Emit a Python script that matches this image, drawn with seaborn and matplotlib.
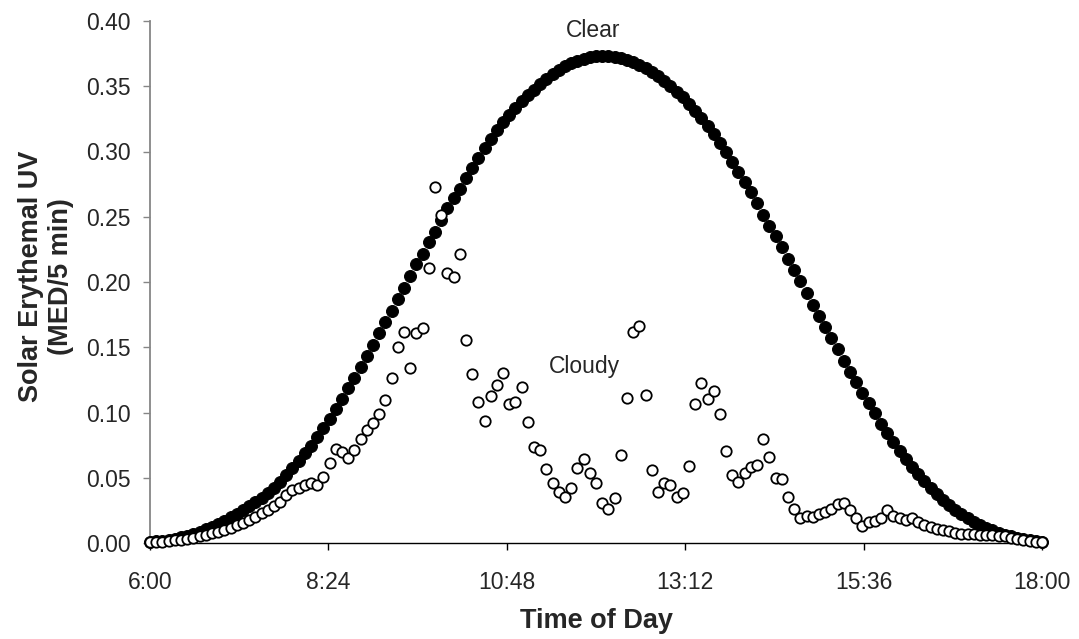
import numpy as np
import matplotlib
matplotlib.use("Agg")
import matplotlib.pyplot as plt
import seaborn as sns

# ---- data (5-minute readings from 6:00 to 18:00) ----
start_minute = 360
step_minutes = 5

clear = [
    0.0009, 0.0013, 0.0019, 0.0026, 0.0034, 0.0044, 0.0056, 0.0070, 0.0086, 0.0104,
    0.0124, 0.0147, 0.0172, 0.0199, 0.0225, 0.0255, 0.0285, 0.0315, 0.0345, 0.0380,
    0.0420, 0.0470, 0.0520, 0.0572, 0.0628, 0.0690, 0.0746, 0.0810, 0.0880, 0.0948,
    0.1025, 0.1100, 0.1185, 0.1267, 0.1346, 0.1433, 0.1517, 0.1607, 0.1696, 0.1780,
    0.1867, 0.1956, 0.2046, 0.2135, 0.2215, 0.2304, 0.2386, 0.2475, 0.2565, 0.2646,
    0.2713, 0.2800, 0.2876, 0.2952, 0.3026, 0.3096, 0.3162, 0.3224, 0.3282, 0.3336,
    0.3386, 0.3432, 0.3474, 0.3516, 0.3556, 0.3592, 0.3624, 0.3652, 0.3676, 0.3695,
    0.3710, 0.3721, 0.3728, 0.3730,
    0.3729, 0.3725, 0.3716, 0.3704, 0.3687, 0.3666, 0.3641, 0.3611, 0.3577, 0.3540,
    0.3499, 0.3457, 0.3414, 0.3366, 0.3314, 0.3257, 0.3199, 0.3136, 0.3068, 0.2997,
    0.2922, 0.2846, 0.2765, 0.2686, 0.2605, 0.2515,
    0.2430, 0.2352, 0.2266, 0.2176, 0.2092, 0.2008, 0.1918, 0.1824, 0.1742, 0.1653,
    0.1569, 0.1484, 0.1395, 0.1313, 0.1231, 0.1147, 0.1070, 0.0995,
    0.0915, 0.0843, 0.0772, 0.0705, 0.0640, 0.0580, 0.0525, 0.0472, 0.0420, 0.0372,
    0.0328, 0.0288, 0.0252, 0.0219, 0.0189, 0.0162, 0.0138, 0.0116, 0.0097, 0.0080,
    0.0065, 0.0052, 0.0040, 0.0030, 0.0021, 0.0013, 0.0006,
]

cloudy = [
    0.0005, 0.0008, 0.0011, 0.0015, 0.0020, 0.0026, 0.0033, 0.0042, 0.0052, 0.0063,
    0.0076, 0.0088, 0.0100, 0.0113, 0.0138, 0.0156, 0.0180, 0.0197, 0.0227, 0.0253,
    0.0283, 0.0317, 0.0368, 0.0406, 0.0420, 0.0444, 0.0462, 0.0444, 0.0503, 0.0610,
    0.0718, 0.0700, 0.0650, 0.0710, 0.0800, 0.0866, 0.0917, 0.0986, 0.1096, 0.1267,
    0.1505, 0.1618, 0.1339, 0.1607, 0.1645, 0.2105, 0.2726, 0.2513, 0.2067, 0.2036,
    0.2215, 0.1556, 0.1295, 0.1083, 0.0935, 0.1126, 0.1211, 0.1305, 0.1065, 0.1083,
    0.1198, 0.0925, 0.0738, 0.0713, 0.0565, 0.0462, 0.0393, 0.0355, 0.0424, 0.0572,
    0.0644, 0.0534, 0.0462, 0.0304, 0.0261, 0.0343, 0.0674, 0.1113, 0.1614, 0.1665,
    0.1134, 0.0559, 0.0393, 0.0457, 0.0444, 0.0355, 0.0385, 0.0592, 0.1063, 0.1224,
    0.1103, 0.1165, 0.0986, 0.0705, 0.0520, 0.0470, 0.0540, 0.0580, 0.0600, 0.0795,
    0.0660, 0.0500, 0.0490, 0.0350, 0.0260, 0.0190, 0.0210, 0.0200, 0.0220, 0.0240,
    0.0260, 0.0300, 0.0310, 0.0250, 0.0190, 0.0130, 0.0160, 0.0170, 0.0190, 0.0250,
    0.0210, 0.0190, 0.0180, 0.0190, 0.0160, 0.0140, 0.0120, 0.0110, 0.0100, 0.0090,
    0.0080, 0.0070, 0.0070, 0.0070, 0.0065, 0.0060, 0.0060, 0.0055, 0.0050, 0.0040,
    0.0030, 0.0020, 0.0015, 0.0010, 0.0005,
]

tick_minutes = [360, 504, 648, 792, 936, 1080]
tick_labels = ["6:00", "8:24", "10:48", "13:12", "15:36", "18:00"]
y_ticks = [0.00, 0.05, 0.10, 0.15, 0.20, 0.25, 0.30, 0.35, 0.40]

minutes = start_minute + step_minutes * np.arange(len(clear))

# ---- style ----
sns.set_style("white")
plt.rcParams["font.family"] = ["Liberation Sans", "DejaVu Sans"]

fig = plt.figure(figsize=(10.79, 6.39), dpi=100)
ax = fig.add_axes([150 / 1079, 1 - 543 / 639, 892 / 1079, 522 / 639])

sns.scatterplot(x=minutes, y=clear, ax=ax, color="black", edgecolor="black",
                s=74, linewidth=0.7, zorder=3, clip_on=False, legend=False)
sns.scatterplot(x=minutes, y=cloudy, ax=ax, color="white", edgecolor="black",
                s=56, linewidth=1.3, zorder=4, clip_on=False, legend=False)

ax.set_xlim(360, 1080)
ax.set_ylim(0, 0.40)
ax.set_xticks(tick_minutes)
ax.set_xticklabels(tick_labels)
ax.set_yticks(y_ticks)
ax.set_yticklabels([f"{v:.2f}" for v in y_ticks])

for side in ["top", "right"]:
    ax.spines[side].set_visible(False)
ax.spines["left"].set_color("#868686")
ax.spines["left"].set_linewidth(1.3)
ax.spines["bottom"].set_color("black")
ax.spines["bottom"].set_linewidth(1.0)

ax.tick_params(axis="y", direction="out", length=5, width=1.0, color="#868686",
               labelsize=16.5, pad=9, left=True)
ax.tick_params(axis="x", direction="out", length=5, width=1.0, color="black",
               labelsize=16.5, pad=15, bottom=True)

ax.set_xlabel("Time of Day", fontsize=19.5, fontweight="bold")
ax.xaxis.set_label_coords(0.5, -0.125)
ax.set_ylabel("Solar Erythemal UV\n(MED/5 min)", fontsize=19.5, fontweight="bold")
ax.yaxis.set_label_coords(-0.085, 0.51)

ax.text(718, 0.393, "Clear", fontsize=16.5, ha="center", va="center")
ax.text(711, 0.135, "Cloudy", fontsize=16.5, ha="center", va="center")

fig.savefig("out.png", dpi=100, facecolor="white")
